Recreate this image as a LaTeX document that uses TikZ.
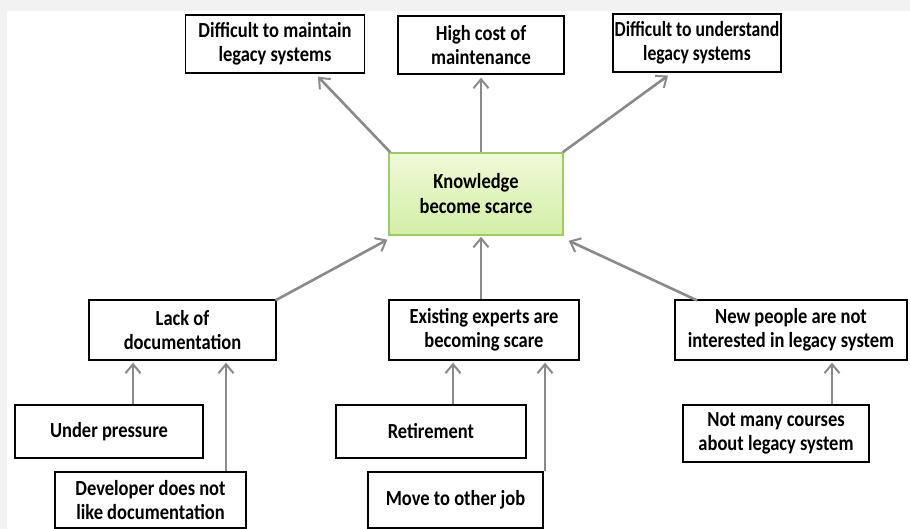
\documentclass[tikz,border=0pt]{standalone}
\usepackage{fontspec}
\setmainfont{Carlito}
\newfontfamily\boxfont[FakeStretch=0.86]{Carlito}
\newfontfamily\narrowfont[FakeStretch=0.82]{Carlito}
\usetikzlibrary{arrows.meta,calc}
\definecolor{arrowgray}{HTML}{8A8A8A}
\definecolor{kfillA}{HTML}{F0FAD8}
\definecolor{kfillB}{HTML}{D3EEA6}
\definecolor{kborder}{HTML}{9CCB6A}
\tikzset{
  box/.style={draw=black, line width=1.3pt, fill=white, align=center, inner sep=0pt,
    font=\boxfont\fontsize{21.5}{23.5}\selectfont\bfseries},
  kbox/.style={draw=kborder, line width=1.5pt, top color=kfillA, bottom color=kfillB,
    align=center, inner sep=0pt, font=\boxfont\fontsize{21.5}{25}\selectfont\bfseries},
  link/.style={draw=arrowgray, line width=2.6pt,
    -{Straight Barb[length=9pt,width=15pt,line width=2pt]}}
}
\begin{document}
\begin{tikzpicture}[x=1pt,y=-1pt]
\useasboundingbox (0,0) rectangle (910,529);
\fill[gray!10] (0,0) rectangle (910,529);
\fill[white] (7,11) rectangle (910,529);
% top effects
\node[box, minimum width=179pt, minimum height=58pt] (B1) at (275,44) {Difficult to maintain\\legacy systems};
\node[box, minimum width=166pt, minimum height=58pt] (B2) at (481,45) {High cost of\\maintenance};
\node[box, minimum width=168pt, minimum height=58pt, font=\narrowfont\fontsize{21.5}{23.5}\selectfont\bfseries] (B3) at (697,43) {Difficult to understand\\legacy systems};
% center
\node[kbox, minimum width=174pt, minimum height=82pt] (K) at (476,194) {Knowledge\\become scarce};
% causes
\node[box, minimum width=187pt, minimum height=60pt] (L1) at (182.5,330) {Lack of\\documentation};
\node[box, minimum width=190pt, minimum height=60pt] (L2) at (484,330) {Existing experts are\\becoming scare};
\node[box, minimum width=232pt, minimum height=60pt] (L3) at (791,330) {New people are not\\interested in legacy system};
% sub-causes
\node[box, minimum width=188pt, minimum height=53pt] (U1) at (109,431.5) {Under pressure};
\node[box, minimum width=191pt, minimum height=56pt] (U2) at (150.5,500) {Developer does not\\like documentation};
\node[box, minimum width=190pt, minimum height=53pt] (R1) at (431,431.5) {Retirement};
\node[box, minimum width=175pt, minimum height=56pt] (R2) at (455.5,500) {Move to other job};
\node[box, minimum width=186pt, minimum height=57pt] (N1) at (776,433.5) {Not many courses\\about legacy system};
% arrows upward to effects
\draw[link] ([xshift=2pt]K.north west) -- ([xshift=43pt,yshift=-3pt]B1.south);
\draw[link] ([xshift=5pt]K.north) -- ([yshift=-3pt]B2.south);
\draw[link] ([xshift=-1pt]K.north east) -- ([xshift=-29pt,yshift=-3pt]B3.south);
% arrows into center
\draw[link] ([xshift=93pt,yshift=-1pt]L1.north) -- ([xshift=-1pt,yshift=-4pt]K.south west);
\draw[link] ([xshift=-3pt]L2.north) -- ([xshift=5pt,yshift=-1pt]K.south);
\draw[link] ([xshift=-94pt,yshift=-1pt]L3.north) -- ([xshift=5pt,yshift=-5pt]K.south east);
% arrows from sub-causes
\draw[link] ([xshift=24pt]U1.north) -- ([xshift=-49.5pt,yshift=-2pt]L1.south);
\draw[link] ([xshift=75.5pt]U2.north) -- ([xshift=43.5pt,yshift=-2pt]L1.south);
\draw[link] ([xshift=22pt]R1.north) -- ([xshift=-31pt,yshift=-2pt]L2.south);
\draw[link] ([xshift=89.5pt]R2.north) -- ([xshift=61pt,yshift=-2pt]L2.south);
\draw[link] ([xshift=56pt]N1.north) -- ([xshift=41pt,yshift=-2pt]L3.south);
\end{tikzpicture}
\end{document}
